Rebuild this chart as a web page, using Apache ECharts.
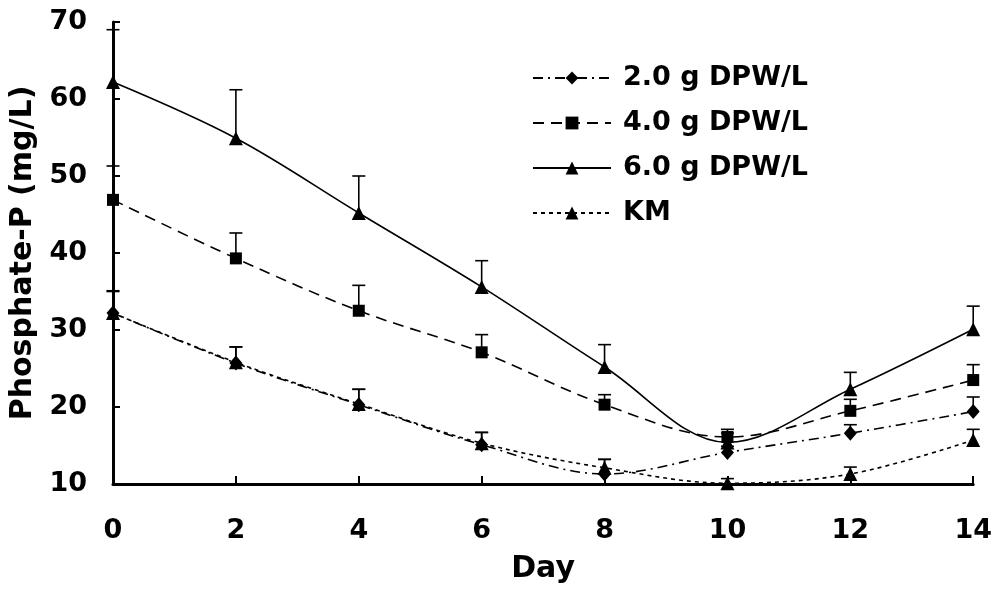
<!DOCTYPE html>
<html>
<head>
<meta charset="utf-8">
<script src="https://cdn.jsdelivr.net/npm/echarts@6/dist/echarts.min.js"></script>
<style>
  html, body { margin: 0; padding: 0; background: #fff; }
  #chart { width: 995px; height: 598px; }
</style>
</head>
<body>
<div id="chart"></div>
<script>
// Sampling days
const days = [0, 2, 4, 6, 8, 10, 12, 14];

// Phosphate-P (mg/L), mean and upper error (SD) per sampling day
const dpw2 = [32.2, 25.7, 20.3, 15.1, 11.3, 14.1, 16.6, 19.4];
const dpw2Err = [2.9, 2.1, 2.0, 1.6, 1.9, 0.8, 1.1, 1.9];

const dpw4 = [46.9, 39.3, 32.5, 27.1, 20.3, 16.1, 19.5, 23.5];
const dpw4Err = [4.4, 3.3, 3.3, 2.3, 1.3, 1.0, 1.5, 2.0];

const dpw6 = [62.2, 54.9, 45.2, 35.6, 25.2, 15.4, 22.3, 30.1];
const dpw6Err = [6.8, 6.3, 4.8, 3.4, 2.9, 1.2, 2.2, 3.0];

const km = [32.2, 25.8, 20.4, 15.3, 12.1, 10.1, 11.3, 15.7];
const kmErr = [2.8, 2.0, 1.9, 1.4, 1.1, 0.6, 0.9, 1.4];

const seriesNames = ['2.0 g DPW/L', '4.0 g DPW/L', '6.0 g DPW/L', 'KM'];

const FONT = '"DejaVu Sans", "Liberation Sans", Arial, sans-serif';

function pairs(vals) {
  return days.map((d, i) => [d, vals[i]]);
}

function errTriples(vals, errs) {
  return days.map((d, i) => [d, vals[i], vals[i] + errs[i]]);
}

// Upper error bar: stem from the mean to mean+SD, with a cap on top
function renderErr(params, api) {
  const x = api.value(0);
  const base = api.coord([x, api.value(1)]);
  const top = api.coord([x, api.value(2)]);
  const half = 6.5;
  const style = { stroke: '#000', lineWidth: 1.6, fill: null };
  return {
    type: 'group',
    children: [
      { type: 'line', shape: { x1: base[0], y1: base[1], x2: top[0], y2: top[1] }, style },
      { type: 'line', shape: { x1: top[0] - half, y1: top[1], x2: top[0] + half, y2: top[1] }, style }
    ]
  };
}

function errSeries(name, vals, errs) {
  return {
    name: name + ' SD',
    type: 'custom',
    renderItem: renderErr,
    data: errTriples(vals, errs),
    encode: { x: 0, y: [1, 2] },
    z: 1,
    silent: true
  };
}

function lineSeries(name, vals, symbol, size, dash) {
  return {
    name: name,
    type: 'line',
    data: pairs(vals),
    smooth: 0.35,
    symbol: symbol,
    symbolSize: size,
    showAllSymbol: true,
    itemStyle: { color: '#000' },
    lineStyle: { color: '#000', width: 1.6, type: dash },
    z: 3
  };
}

const chart = echarts.init(document.getElementById('chart'), null, { renderer: 'canvas' });

chart.setOption({
  animation: false,
  backgroundColor: '#fff',
  grid: { left: 113, right: 15, top: 22, bottom: 114, containLabel: false },
  legend: {
    data: seriesNames,
    orient: 'vertical',
    left: 527,
    top: 58,
    itemWidth: 78,
    itemHeight: 16,
    itemGap: 15,
    selectedMode: false,
    textStyle: {
      fontFamily: FONT,
      fontWeight: 'bold',
      fontSize: 27,
      color: '#000',
      lineHeight: 30,
      padding: [0, 0, 0, 7]
    }
  },
  xAxis: {
    type: 'value',
    min: 0,
    max: 14,
    interval: 2,
    name: 'Day',
    nameLocation: 'middle',
    nameGap: 70,
    nameTextStyle: { fontFamily: FONT, fontWeight: 'bold', fontSize: 30, color: '#000' },
    axisLine: { show: true, lineStyle: { color: '#000', width: 3 } },
    axisTick: { show: true, inside: true, length: 8, lineStyle: { color: '#000', width: 2 } },
    axisLabel: { margin: 33, fontFamily: FONT, fontWeight: 'bold', fontSize: 27, color: '#000' },
    splitLine: { show: false }
  },
  yAxis: {
    type: 'value',
    min: 10,
    max: 70,
    interval: 10,
    name: 'Phosphate-P (mg/L)',
    nameLocation: 'middle',
    nameGap: 64,
    nameRotate: 90,
    nameTextStyle: { fontFamily: FONT, fontWeight: 'bold', fontSize: 30, color: '#000' },
    axisLine: { show: true, lineStyle: { color: '#000', width: 3 } },
    axisTick: { show: true, inside: true, length: 7, lineStyle: { color: '#000', width: 2 } },
    axisLabel: { margin: 26, fontFamily: FONT, fontWeight: 'bold', fontSize: 27, color: '#000' },
    splitLine: { show: false }
  },
  series: [
    errSeries(seriesNames[0], dpw2, dpw2Err),
    errSeries(seriesNames[1], dpw4, dpw4Err),
    errSeries(seriesNames[2], dpw6, dpw6Err),
    errSeries(seriesNames[3], km, kmErr),
    lineSeries(seriesNames[0], dpw2, 'diamond', [13, 15], [10, 5, 2, 5]),
    lineSeries(seriesNames[1], dpw4, 'rect', 12, [11, 7]),
    lineSeries(seriesNames[2], dpw6, 'triangle', 14, 'solid'),
    lineSeries(seriesNames[3], km, 'triangle', 14, [4, 4])
  ]
});
</script>
</body>
</html>
